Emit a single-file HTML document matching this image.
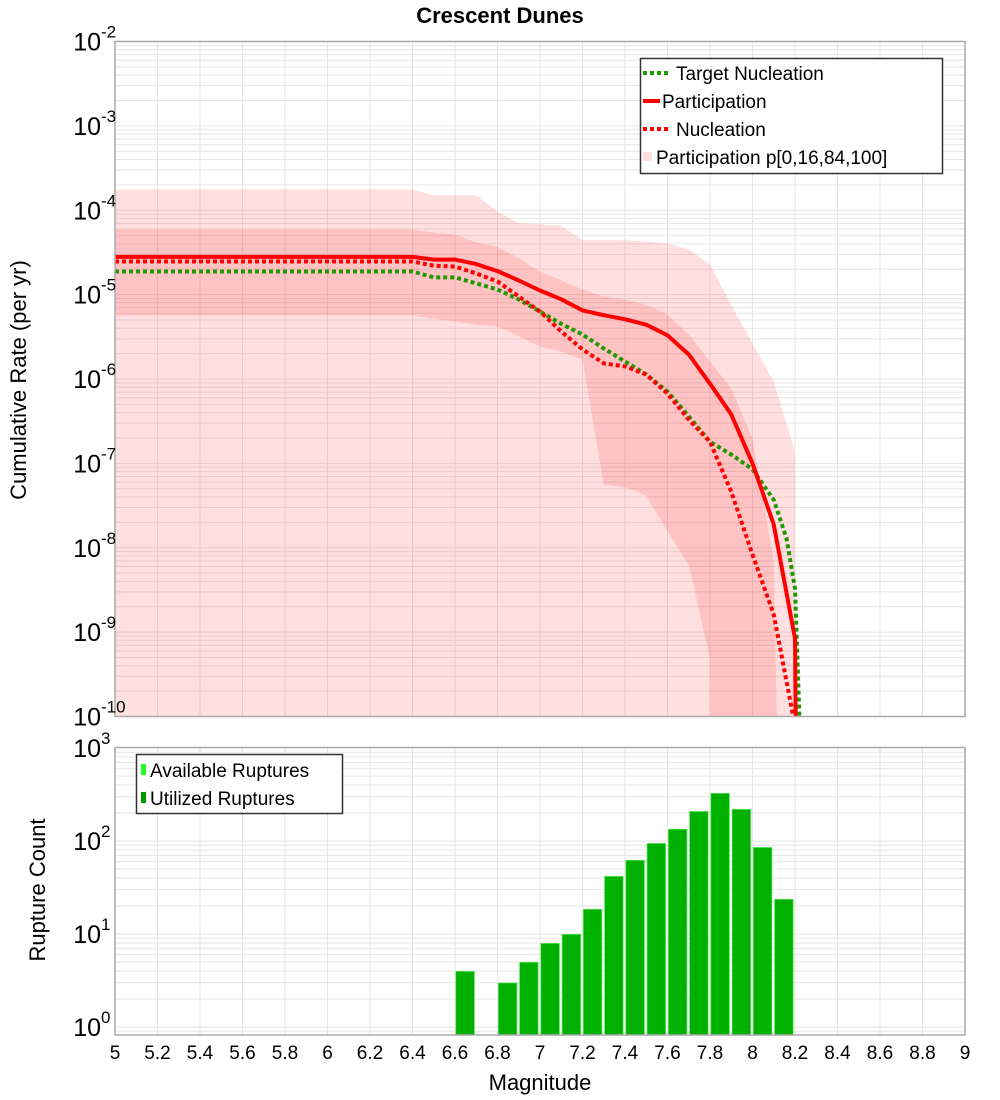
<!DOCTYPE html>
<html><head><meta charset="utf-8"><style>
html,body{margin:0;padding:0;background:#fff;}
svg{display:block;font-family:"Liberation Sans","DejaVu Sans",sans-serif;}
</style></head><body>
<svg id="chart" width="1000" height="1100" viewBox="0 0 1000 1100" xmlns="http://www.w3.org/2000/svg">
<defs>
<clipPath id="clipTop"><rect x="115" y="41.5" width="850" height="675"/></clipPath>
<clipPath id="clipBot"><rect x="115" y="747.5" width="850" height="287.5"/></clipPath>
</defs>
<rect width="1000" height="1100" fill="#fff"/>
<text x="500" y="23" text-anchor="middle" font-size="22" font-weight="bold">Crescent Dunes</text>
<g id="topGrid"></g>
<g id="topBands" clip-path="url(#clipTop)"></g>
<g id="topLines" clip-path="url(#clipTop)"></g>
<rect x="115" y="41.5" width="850" height="675" fill="none" stroke="#aaa" stroke-width="1.5"/>
<g id="topYLabels"></g>
<text transform="translate(26,380) rotate(-90)" text-anchor="middle" font-size="22">Cumulative Rate (per yr)</text>

<g>
<rect x="640.5" y="58.5" width="302" height="115" fill="#fff" stroke="#333" stroke-width="1.5"/>
<line x1="643" y1="73" x2="669" y2="73" stroke="#1d9a00" stroke-width="4" stroke-dasharray="4,3"/>
<text x="676" y="80" font-size="19">Target Nucleation</text>
<line x1="643" y1="101" x2="660" y2="101" stroke="#f00" stroke-width="4"/>
<text x="662" y="108" font-size="19">Participation</text>
<line x1="643" y1="129" x2="669" y2="129" stroke="#f00" stroke-width="4" stroke-dasharray="4,3"/>
<text x="676" y="136" font-size="19">Nucleation</text>
<rect x="643" y="152" width="9" height="9" fill="#ffdfe0"/>
<text x="656" y="164" font-size="19">Participation p[0,16,84,100]</text>
</g>

<g id="botGrid"></g>
<g id="botBars" clip-path="url(#clipBot)"></g>
<rect x="115" y="747.5" width="850" height="287.5" fill="none" stroke="#aaa" stroke-width="1.5"/>
<g id="botYLabels"></g>
<g id="xLabels"></g>
<text transform="translate(45,890) rotate(-90)" text-anchor="middle" font-size="22">Rupture Count</text>
<text x="540" y="1090" text-anchor="middle" font-size="22">Magnitude</text>

<g>
<rect x="136.5" y="754.5" width="206" height="59" fill="#fff" stroke="#333" stroke-width="1.5"/>
<rect x="141" y="764" width="5" height="11" fill="#22ff22"/>
<text x="150" y="777" font-size="19">Available Ruptures</text>
<rect x="141" y="792" width="5" height="11" fill="#009900"/>
<text x="150" y="805" font-size="19">Utilized Ruptures</text>
</g>
</svg>
<script>
// ---- data ----
const flatMags = [5.0, 6.4];
const stepMags = [6.5,6.6,6.7,6.8,6.9,7.0,7.1,7.2,7.3,7.4,7.5,7.6,7.7,7.8,7.9,8.0,8.1,8.2];

const partMags = [5.0,6.4,6.5,6.6,6.7,6.8,6.9,7.0,7.1,7.2,7.3,7.4,7.5,7.6,7.7,7.8,7.9,8.0,8.1,8.2,8.21];
const partVals = [2.8e-5,2.8e-5,2.6e-5,2.6e-5,2.3e-5,1.9e-5,1.47e-5,1.12e-5,8.8e-6,6.5e-6,5.7e-6,5.1e-6,4.4e-6,3.3e-6,1.95e-6,8.8e-7,3.8e-7,1.0e-7,1.89e-8,8.4e-10,1e-12];

const nuclMags = [5.0,6.4,6.5,6.6,6.7,6.8,6.9,7.0,7.1,7.2,7.3,7.4,7.5,7.6,7.7,7.8,7.9,8.0,8.1,8.19,8.2];
const nuclVals = [2.47e-5,2.47e-5,2.2e-5,2.15e-5,1.78e-5,1.43e-5,9.5e-6,6.3e-6,3.66e-6,2.24e-6,1.53e-6,1.41e-6,1.13e-6,6.7e-7,3.3e-7,1.8e-7,4.6e-8,8.3e-9,1.62e-9,1.05e-10,1e-12];

const targetMags = [5.0,6.4,6.5,6.6,6.7,6.8,6.9,7.0,7.1,7.2,7.3,7.4,7.5,7.6,7.7,7.8,7.9,8.0,8.1,8.16,8.2,8.21,8.22,8.23];
const targetVals = [1.88e-5,1.88e-5,1.6e-5,1.6e-5,1.36e-5,1.15e-5,8.75e-6,6.3e-6,4.5e-6,3.37e-6,2.3e-6,1.61e-6,1.13e-6,7.1e-7,3.6e-7,1.8e-7,1.27e-7,8.5e-8,3.7e-8,1.29e-8,3.3e-9,6.4e-10,1.06e-10,1e-12];

const p100Mags = [5.0,6.4,6.5,6.6,6.7,6.8,6.9,7.0,7.1,7.2,7.3,7.4,7.5,7.6,7.7,7.8,7.9,8.0,8.1,8.2,8.201];
const p100Vals = [1.76e-4,1.76e-4,1.5e-4,1.5e-4,1.5e-4,9.66e-5,7.0e-5,6.8e-5,6.6e-5,4.4e-5,4.4e-5,4.4e-5,4.26e-5,4.04e-5,3.43e-5,2.28e-5,7.6e-6,2.64e-6,9.3e-7,1.38e-7,1e-12];
const p0Mags = [5.0,8.201];
const p0Vals = [1e-12,1e-12];

const p84Mags = [5.0,6.4,6.5,6.6,6.7,6.8,6.9,7.0,7.1,7.2,7.3,7.4,7.5,7.6,7.7,7.8,7.9,8.0,8.1,8.13];
const p84Vals = [5.9e-5,5.9e-5,5.45e-5,5.16e-5,4.15e-5,3.7e-5,2.68e-5,1.88e-5,1.47e-5,1.15e-5,9.5e-6,8.75e-6,7.6e-6,5.8e-6,3.37e-6,1.61e-6,7.7e-7,1.97e-7,6.9e-9,1e-12];
const p16Mags = [5.0,6.4,6.5,6.6,6.7,6.8,6.9,7.0,7.1,7.2,7.3,7.4,7.5,7.6,7.7,7.8,7.81];
const p16Vals = [5.66e-6,5.66e-6,5.2e-6,4.8e-6,4.4e-6,4.2e-6,3.2e-6,2.43e-6,2.1e-6,1.7e-6,5.6e-8,5.2e-8,4.16e-8,1.56e-8,6.3e-9,4.9e-10,1e-12];

const barMags = [6.6,6.8,6.9,7.0,7.1,7.2,7.3,7.4,7.5,7.6,7.7,7.8,7.9,8.0,8.1];
const availableCounts = [4,3,5,8,10,18.6,42,62.5,95,135,210,328,221,86,23.8];
const utilizedCounts = [4,3,5,8,10,18.6,42,62.5,95,135,210,328,221,86,23.8];

const xTicks = [5,5.2,5.4,5.6,5.8,6,6.2,6.4,6.6,6.8,7,7.2,7.4,7.6,7.8,8,8.2,8.4,8.6,8.8,9];
const xTickLabels = ["5","5.2","5.4","5.6","5.8","6","6.2","6.4","6.6","6.8","7","7.2","7.4","7.6","7.8","8","8.2","8.4","8.6","8.8","9"];
const topDecades = [-2,-3,-4,-5,-6,-7,-8,-9,-10];
const botDecades = [3,2,1,0];

// ---- axes ----
const NS = 'http://www.w3.org/2000/svg';
const X0 = 115, X1 = 965, MMIN = 5, MMAX = 9;
function xScale(m){ return X0 + (m - MMIN) * (X1 - X0) / (MMAX - MMIN); }
const TOPY = 41.5, TOPDEC = 84.375;
function yTop(v){ return TOPY + (-2 - Math.log10(v)) * TOPDEC; }
const BOTY = 748, BOTDEC = 93;
function yBot(v){ return BOTY + (3 - Math.log10(v)) * BOTDEC; }
function mk(tag, attrs, parent){ const e = document.createElementNS(NS, tag); for (const k in attrs) e.setAttribute(k, attrs[k]); parent.appendChild(e); return e; }

// grids
const tg = document.getElementById('topGrid');
for (let d = -10; d < -2; d++) {
  for (let k = 1; k <= 9; k++) {
    const y = yTop(k * Math.pow(10, d));
    if (y < TOPY || y > 716.5) continue;
    const l = mk('line', {x1: X0, x2: X1, y1: y, y2: y, stroke: '#e6e6e6', 'stroke-width': 1}, tg);
    
    
  }
}
const bg = document.getElementById('botGrid');
for (let d = -1; d < 3; d++) {
  for (let k = 1; k <= 9; k++) {
    const y = yBot(k * Math.pow(10, d));
    if (y < 747.5 || y > 1035) continue;
    const l = mk('line', {x1: X0, x2: X1, y1: y, y2: y, stroke: '#e6e6e6', 'stroke-width': 1}, bg);
    
    
  }
}
xTicks.forEach(m => {
  const x = xScale(m);
  const a = mk('line', {x1: x, x2: x, y1: TOPY, y2: 716.5, stroke: '#e6e6e6', 'stroke-width': 1}, tg);
  
  
  const b = mk('line', {x1: x, x2: x, y1: 747.5, y2: 1035, stroke: '#e6e6e6', 'stroke-width': 1}, bg);
  
  
});

// labels
function powLabel(parent, xRight, yc, exp, name){
  const t = mk('text', {x: xRight - 14, y: yc + 9, 'text-anchor': 'end', 'font-size': 25}, parent);
  t.textContent = '10';
  
  
  const s = mk('text', {x: xRight - 14, y: yc - 4, 'text-anchor': 'start', 'font-size': 17}, parent);
  s.textContent = String(exp);
  
  
}
const tyl = document.getElementById('topYLabels');
topDecades.forEach(d => powLabel(tyl, 115, yTop(Math.pow(10, d)), d, 'top-y-tick-label'));
const byl = document.getElementById('botYLabels');
botDecades.forEach(d => powLabel(byl, 115, yBot(Math.pow(10, d)), d, 'bottom-y-tick-label'));
const xl = document.getElementById('xLabels');
xTicks.forEach((m, i) => {
  const t = mk('text', {x: xScale(m), y: 1059, 'text-anchor': 'middle', 'font-size': 19}, xl);
  t.textContent = xTickLabels[i];
  
  
});

// bands
function bandPath(upM, upV, loM, loV){
  let d = '';
  upM.forEach((m, i) => { d += (i ? 'L' : 'M') + xScale(m).toFixed(1) + ',' + Math.min(yTop(upV[i]), 2000).toFixed(1); });
  for (let i = loM.length - 1; i >= 0; i--) d += 'L' + xScale(loM[i]).toFixed(1) + ',' + Math.min(yTop(loV[i]), 2000).toFixed(1);
  return d + 'Z';
}
const tb = document.getElementById('topBands');
const outer = mk('path', {d: bandPath(p100Mags, p100Vals, p0Mags, p0Vals), fill: 'rgba(255,0,0,0.125)'}, tb);


const inner = mk('path', {d: bandPath(p84Mags, p84Vals, p16Mags, p16Vals), fill: 'rgba(255,0,0,0.125)'}, tb);



// lines
function linePts(ms, vs){ return ms.map((m, i) => xScale(m).toFixed(1) + ',' + Math.min(yTop(vs[i]), 2000).toFixed(1)).join(' '); }
const tl = document.getElementById('topLines');
const tgt = mk('polyline', {points: linePts(targetMags, targetVals), fill: 'none', stroke: '#1d9a00', 'stroke-width': 4, 'stroke-dasharray': '4,3'}, tl);


const nuc = mk('polyline', {points: linePts(nuclMags, nuclVals), fill: 'none', stroke: '#f00', 'stroke-width': 4, 'stroke-dasharray': '4,3'}, tl);


const par = mk('polyline', {points: linePts(partMags, partVals), fill: 'none', stroke: '#f00', 'stroke-width': 4, 'stroke-linejoin': 'round'}, tl);



// bars
const bb = document.getElementById('botBars');
barMags.forEach((m, i) => {
  const x = xScale(m) + 0.5, w = xScale(m + 0.1) - xScale(m) - 2;
  const ya = yBot(availableCounts[i]);
  const a = mk('rect', {x: x, y: ya, width: w, height: 1040 - ya, fill: '#55ee55'}, bb);
  
  
  const yu = yBot(utilizedCounts[i]);
  const u = mk('rect', {x: x + 0.7, y: yu + 0.7, width: w - 1.4, height: 1040 - yu, fill: '#00b000'}, bb);
  
  
});
</script>
</body></html>
